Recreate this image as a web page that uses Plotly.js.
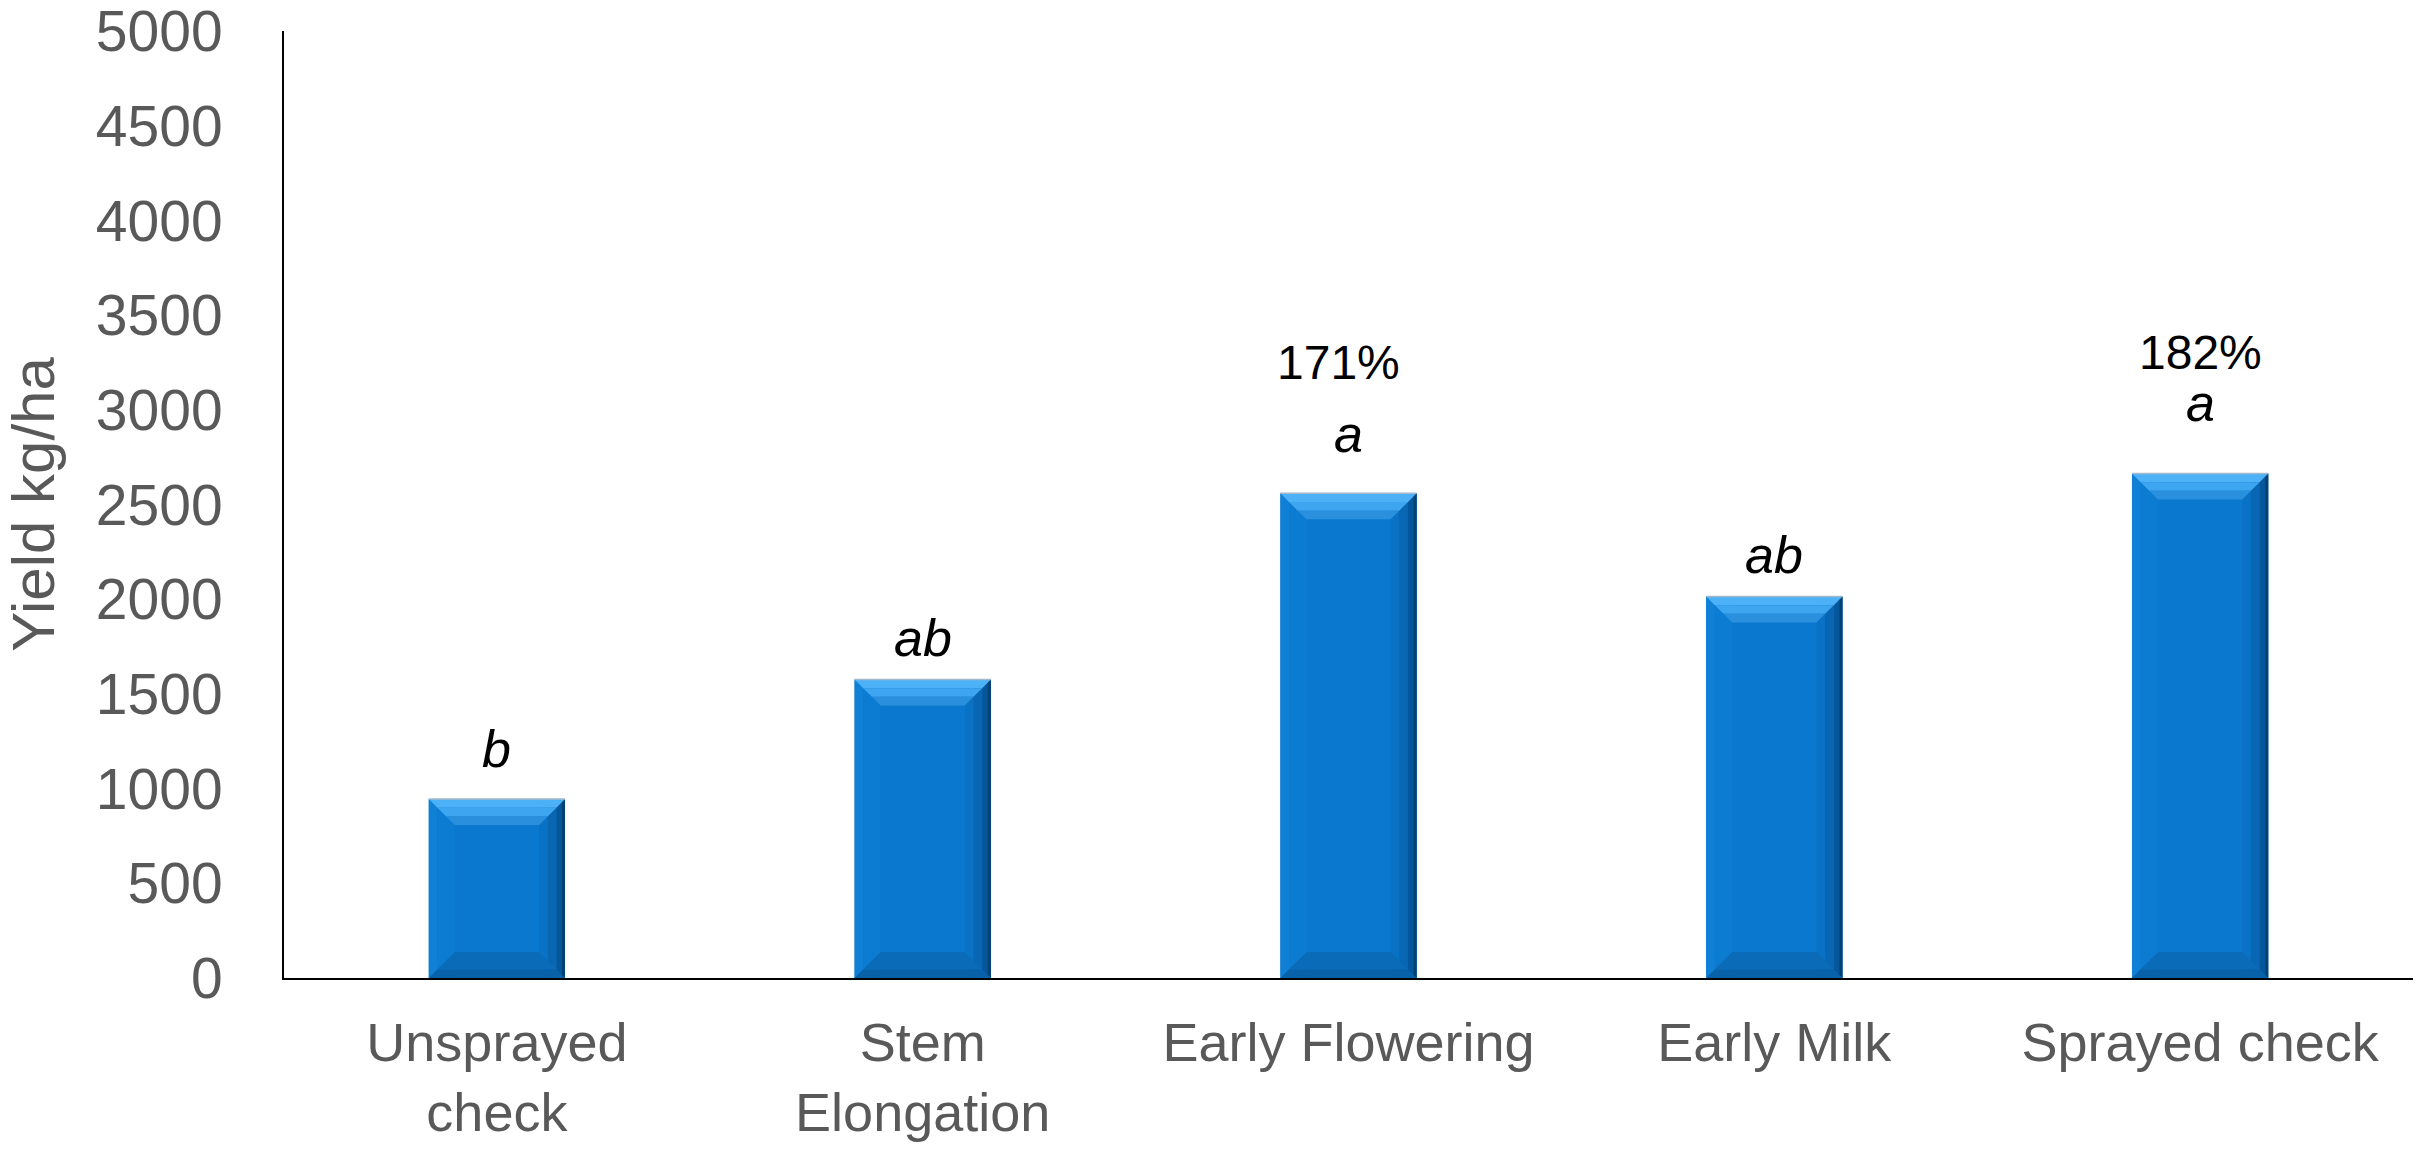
<!DOCTYPE html>
<html>
<head>
<meta charset="utf-8">
<script src="https://cdn.plot.ly/plotly-3.0.1.min.js"></script>
<style>
  html, body { margin: 0; padding: 0; background: #ffffff; }
  #chart { width: 2433px; height: 1152px; }
</style>
</head>
<body>
<div id="chart"></div>
<script>
// Grain yield by fungicide timing
const treatments = ['Unsprayed<br>check', 'Stem<br>Elongation', 'Early Flowering', 'Early Milk', 'Sprayed check'];
const yieldKgHa = [945, 1577, 2560, 2015, 2665];
const sigLetters = ['b', 'ab', 'a', 'ab', 'a'];
const pctLabels = ['', '', '171%', '', '182%'];
const yTicks = [0, 500, 1000, 1500, 2000, 2500, 3000, 3500, 4000, 4500, 5000];

// Styling
const FONT = 'Liberation Sans, Arial, sans-serif';
const GREY = '#595959';
const FACE = '#0a78ce';
const W = 2433, H = 1152;
const M = { l: 284, r: 20, t: 31, b: 174 };
const BARGAP = 0.68;
// label lift above bar top, px (letters, percentages)
const letterLift = [50, 41, 59, 42, 70];
const pctLift = [0, 0, 131, 0, 121];

// half bar width in pixels, derived from plot width and bargap
const catW = (W - M.l - M.r) / treatments.length;
const hw = catW * (1 - BARGAP) / 2;
const d = 26; // bevel depth px
const t1 = d / 3, t2 = 2 * d / 3;

const trace = {
  type: 'bar',
  x: treatments,
  y: yieldKgHa,
  marker: { color: FACE, line: { width: 0 } },
  hoverinfo: 'x+y'
};

// bevel overlays for each bar: side strips, then top/bottom trapezoids
const shapes = [];
treatments.forEach((cat, i) => {
  const v = yieldKgHa[i];
  const side = (x0, x1, col) => ({
    type: 'rect', xref: 'x', yref: 'y', xsizemode: 'pixel', xanchor: cat,
    x0: x0, x1: x1, y0: 0, y1: v, fillcolor: col, line: { width: 0 }
  });
  shapes.push(side(-hw, -hw + t1, '#1080d6'));
  shapes.push(side(-hw + t1, -hw + d, '#0c7cd2'));
  shapes.push(side(hw - d, hw - t2, '#0a72c4'));
  shapes.push(side(hw - t2, hw - t1, '#0866b2'));
  shapes.push(side(hw - t1, hw, '#05569a'));
  shapes.push({
    type: 'line', xref: 'x', yref: 'y', xsizemode: 'pixel', xanchor: cat,
    x0: hw - 1.5, x1: hw - 1.5, y0: 0, y1: v, line: { color: '#044272', width: 3 }
  });
  const trap = (anchorY, a, b, col, dir) => ({
    type: 'path', xref: 'x', yref: 'y', xsizemode: 'pixel', ysizemode: 'pixel',
    xanchor: cat, yanchor: anchorY,
    path: 'M ' + [[-hw + a, dir * a], [hw - a, dir * a], [hw - b, dir * b], [-hw + b, dir * b]]
      .map(p => p[0].toFixed(1) + ',' + p[1].toFixed(1)).join(' L ') + ' Z',
    fillcolor: col, line: { width: 0 }
  });
  // top bevel, light to mid
  shapes.push(trap(v, 0, t1, '#4cb1f7', -1));
  shapes.push(trap(v, t1, t2, '#3ea5f0', -1));
  shapes.push(trap(v, t2, d, '#2a90de', -1));
  // bottom bevel
  shapes.push(trap(0, 0, t1, '#0862a9', 1));
  shapes.push(trap(0, t1, d, '#0a6cb9', 1));
  // thin rim on top edge
  shapes.push({
    type: 'line', xref: 'x', yref: 'y', xsizemode: 'pixel', ysizemode: 'pixel',
    xanchor: cat, yanchor: v, x0: -hw, x1: hw, y0: 0, y1: 0,
    line: { color: '#a4b8cc', width: 1.5 }
  });
});

const annotations = [];
treatments.forEach((cat, i) => {
  annotations.push({
    x: cat, y: yieldKgHa[i], xref: 'x', yref: 'y',
    text: sigLetters[i], showarrow: false, yanchor: 'middle', yshift: letterLift[i],
    font: { family: FONT, size: 52, color: '#000000', style: 'italic' }
  });
  if (pctLabels[i]) {
    annotations.push({
      x: cat, y: yieldKgHa[i], xref: 'x', yref: 'y',
      text: pctLabels[i], showarrow: false, yanchor: 'middle', yshift: pctLift[i],
      xshift: i === 2 ? -10 : 0,
      font: { family: FONT, size: 48, color: '#000000' }
    });
  }
});

const layout = {
  width: W, height: H,
  margin: M,
  paper_bgcolor: '#ffffff', plot_bgcolor: '#ffffff',
  bargap: BARGAP,
  showlegend: false,
  font: { family: FONT, color: GREY },
  xaxis: {
    type: 'category',
    showline: true, linecolor: '#000000', linewidth: 2,
    ticks: '', showgrid: false, zeroline: false,
    tickfont: { family: FONT, size: 54, color: GREY },
    ticklabelstandoff: 16
  },
  yaxis: {
    range: [0, 5002],
    tickvals: yTicks,
    tickformat: 'd',
    showline: true, linecolor: '#000000', linewidth: 2,
    ticks: '', showgrid: false, zeroline: false,
    tickfont: { family: FONT, size: 57, color: GREY },
    ticklabelstandoff: 48,
    ticklabeloverflow: 'allow',
    title: { text: 'Yield kg/ha', font: { family: FONT, size: 60, color: GREY }, standoff: 36 }
  },
  shapes: shapes,
  annotations: annotations
};

Plotly.newPlot('chart', [trace], layout, { displayModeBar: false, staticPlot: true });
</script>
</body>
</html>
